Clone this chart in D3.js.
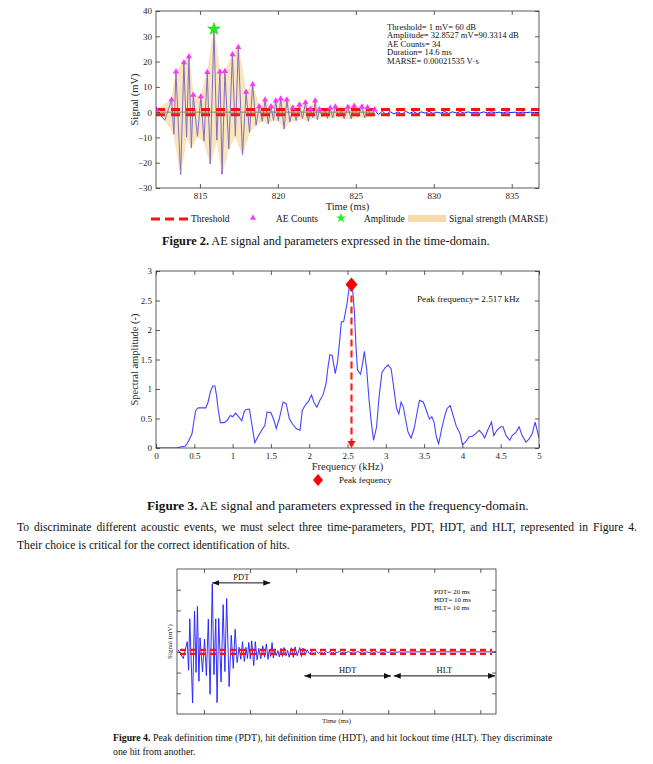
<!DOCTYPE html>
<html><head><meta charset="utf-8">
<script src="https://cdn.jsdelivr.net/npm/d3@7"></script>
<style>body{margin:0;background:#fff}svg{display:block}</style>
</head><body>
<svg id="page" width="653" height="764"></svg>
<script>
// ---------------- DATA ----------------
// Figure 2: AE counts (peaks above threshold)
const aeCountTimes=[812.2,813.18,813.46,813.97,814.29,814.57,815.06,815.47,815.9,816.28,816.6,817.08,817.46,817.96,818.38,818.8,819.18,819.56,819.86,820.18,820.57,820.95,821.38,821.77,822.09,822.39,822.67,823.35,823.69,824.49,824.89,825.39,825.75,826.2];
const aeCountValues=[0.9,4.9,16,19.6,22,6.8,6.2,15.8,32.85,16,16.2,22.8,25.7,8,10.9,2.2,4.9,2.2,4.5,5.3,4.9,1.7,2.9,3.8,1.2,4.5,1,1.6,2.1,2,2.4,2.1,1.8,1];
// troughs of the waveform
const troughTimes=[812.75,813.33,813.76,814.14,814.45,814.84,815.26,815.66,816.08,816.42,816.85,817.27,817.73,818.18,818.6,819.0,819.38,819.72,820.03,820.4,820.77,821.17,821.58,821.95,822.24,822.53,822.85,823.18,823.52,823.9,824.25,824.7,825.12,825.57,825.98];
const troughValues=[-3.2,-8.8,-24.6,-9.9,-14.2,-9.6,-11.5,-20.5,-11,-24.5,-14.5,-9.5,-16.8,-8,-5.2,-3.6,-4.6,-3.2,-3.4,-6.6,-3.9,-3.3,-2.6,-3.6,-2.2,-2.9,-1.8,-2.4,-2.3,-1.9,-2.6,-2.7,-1.9,-2.3,-1.6];
// small peaks below threshold
const minorPeakTimes=[823.02,824.08];
const minorPeakValues=[0.6,0.7];
// noise tail after the burst
const tailTimes=[826.45,826.7,826.95,827.2,827.45,827.7,827.95,828.2,828.45,828.7,828.95,829.2,829.45,829.7,829.95,830.2,830.45,830.7,830.95,831.2,831.45,831.7,831.95,832.2,832.45,832.7,832.95,833.2,833.45,833.7,833.95,834.2,834.45,834.7,834.95,835.2,835.45,835.7,835.95,836.2,836.45,836.75,838,840,842,844,846.7];
const tailValues=[-1.0,0.3,-0.9,0.2,-0.7,0.1,-0.8,0.3,-0.5,0.2,-0.6,0.1,-0.4,0.3,-0.5,0.0,-0.4,0.2,-0.5,0.1,-0.3,0.2,-0.4,0.1,-0.3,0.0,-0.4,0.1,-0.3,0.1,-0.3,0.0,-0.3,0.1,-0.2,0.0,-0.3,0.0,-0.2,0.0,-0.2,-0.1,0,0,0,0,0];
const amplitudeTime=[815.9], amplitudeValue=[32.8527];
const threshold=1;
const fig2XTicks=[815,820,825,830,835];
const fig2YTicks=[-30,-20,-10,0,10,20,30,40];
const fig2Info=["Threshold= 1 mV= 60 dB","Amplitude= 32.8527 mV=90.3314 dB","AE Counts= 34","Duration= 14.6 ms","MARSE= 0.00021535 V\u00B7s"];
const fig2Legend=["Threshold","AE Counts","Amplitude","Signal strength (MARSE)"];

// Figure 3: spectrum
const freqKHz=[0,0.27,0.33,0.38,0.4,0.43,0.47,0.5,0.52,0.55,0.6,0.65,0.68,0.71,0.74,0.77,0.79,0.81,0.84,0.89,0.93,0.97,1.0,1.04,1.09,1.12,1.15,1.17,1.22,1.26,1.29,1.33,1.38,1.42,1.45,1.5,1.54,1.57,1.61,1.66,1.7,1.74,1.78,1.83,1.88,1.91,1.96,1.99,2.03,2.06,2.1,2.14,2.18,2.22,2.24,2.27,2.3,2.34,2.37,2.4,2.42,2.45,2.49,2.52,2.55,2.57,2.59,2.61,2.63,2.67,2.7,2.72,2.75,2.78,2.81,2.84,2.88,2.91,2.95,2.99,3.03,3.07,3.1,3.14,3.17,3.2,3.23,3.26,3.29,3.33,3.37,3.41,3.44,3.49,3.52,3.57,3.6,3.63,3.66,3.69,3.73,3.77,3.8,3.84,3.88,3.92,3.97,4.0,4.04,4.09,4.13,4.17,4.22,4.26,4.29,4.33,4.38,4.41,4.45,4.5,4.53,4.57,4.62,4.65,4.7,4.74,4.78,4.83,4.87,4.91,4.95,4.97,5.0];
const spectralAmp=[0,0,0.02,0.03,0.06,0.13,0.24,0.5,0.64,0.68,0.68,0.68,0.78,0.95,1.05,1.05,0.89,0.67,0.43,0.43,0.47,0.55,0.53,0.59,0.51,0.46,0.61,0.65,0.66,0.33,0.09,0.19,0.3,0.38,0.61,0.6,0.47,0.33,0.5,0.78,0.75,0.5,0.41,0.33,0.3,0.64,0.75,0.79,0.9,0.78,0.69,0.81,0.9,1.09,1.32,1.58,1.57,1.26,1.46,1.85,2.14,2.14,2.42,2.7,2.77,2.64,2.31,1.74,1.32,1.25,1.46,1.64,1.34,0.84,0.44,0.13,0.36,0.84,1.28,1.36,1.41,1.34,1.06,0.67,0.58,0.78,0.69,0.47,0.27,0.17,0.33,0.61,0.81,0.78,0.67,0.49,0.53,0.44,0.19,0.07,0.33,0.55,0.67,0.72,0.55,0.37,0.24,0.06,0.1,0.19,0.2,0.24,0.3,0.24,0.17,0.3,0.44,0.21,0.3,0.36,0.36,0.21,0.13,0.21,0.27,0.36,0.21,0.1,0.15,0.24,0.44,0.33,0.17];
const peakFreq=[2.552], peakAmp=[2.77];
const fig3XTicks=[0,0.5,1,1.5,2,2.5,3,3.5,4,4.5,5];
const fig3YTicks=[0,0.5,1,1.5,2,2.5,3];

// Figure 4: time parameters (ms on the schematic axis, mV)
const fig4XTicks=[815,820,825,830,835,840,845];
const fig4YTicks=[-20,-10,0,10,20,30];
const paramNames=["PDT","HDT","HLT"];
const paramStart=[815.9,825.9,835.6];
const paramEnd=[822.2,835.3,846.6];
const paramLevel=[33.3,-11.6,-11.6];
const fig4Info=["PDT= 20 ms","HDT= 10 ms","HLT= 10 ms"];

// ---------------- DRAW ----------------
const serif='"Liberation Serif","Times New Roman",serif';
const svg=d3.select('#page');
const defs=svg.append('defs');

function fitWidth(sel,target){const w=sel.node().getComputedTextLength();const fs=parseFloat(sel.attr('font-size'));sel.attr('font-size',fs*target/w);return fs*target/w;}

function boxAxes(g,x,y,xt,yt,xfmt,yfmt,labels){
  const [x0,x1]=x.range(),[y1,y0]=y.range();
  const st=a=>a.call(s=>s.select('.domain').remove()).call(s=>s.selectAll('line').attr('stroke','#333').attr('stroke-width',0.8)).call(s=>s.selectAll('text').attr('font-family',serif).attr('font-size',9).attr('fill','#262626'));
  g.append('g').attr('transform',`translate(0,${y1})`).call(d3.axisBottom(x).tickValues(xt).tickSize(-4).tickPadding(5).tickFormat(labels?xfmt:()=>'')).call(st);
  g.append('g').attr('transform',`translate(0,${y0})`).call(d3.axisTop(x).tickValues(xt).tickSize(-4).tickFormat(()=>'')).call(st);
  g.append('g').attr('transform',`translate(${x0},0)`).call(d3.axisLeft(y).tickValues(yt).tickSize(-4).tickPadding(4).tickFormat(labels?yfmt:()=>'')).call(st);
  g.append('g').attr('transform',`translate(${x1},0)`).call(d3.axisRight(y).tickValues(yt).tickSize(-4).tickFormat(()=>'')).call(st);
  g.append('rect').attr('x',x0).attr('y',y0).attr('width',x1-x0).attr('height',y1-y0).attr('fill','none').attr('stroke','#333').attr('stroke-width',0.8);
}
function clip(id,x,y){const [x0,x1]=x.range(),[y1,y0]=y.range();defs.append('clipPath').attr('id',id).append('rect').attr('x',x0).attr('y',y0).attr('width',x1-x0).attr('height',y1-y0);return `url(#${id})`;}

// build waveform
const sig=[];
aeCountTimes.forEach((t,i)=>sig.push([t,aeCountValues[i]]));
troughTimes.forEach((t,i)=>sig.push([t,troughValues[i]]));
minorPeakTimes.forEach((t,i)=>sig.push([t,minorPeakValues[i]]));
tailTimes.forEach((t,i)=>sig.push([t,tailValues[i]]));
sig.sort((a,b)=>a[0]-b[0]);

// ===== Figure 2 =====
{
const x=d3.scaleLinear().domain([812.18,836.75]).range([156,539]);
const y=d3.scaleLinear().domain([-30,40]).range([188,11]);
const g=svg.append('g');
const cp=clip('c2',x,y);
const pg=g.append('g').attr('clip-path',cp);
const line=d3.line().x(d=>x(d[0])).y(d=>y(d[1]));
pg.append('path').attr('d',line(sig)).attr('fill','none').attr('stroke','#1a1aff').attr('stroke-width',1);
const env=aeCountTimes.map((t,i)=>[t,aeCountValues[i]]).concat(troughTimes.map((t,i)=>[t,troughValues[i]]).reverse());
pg.append('path').attr('d',line(env)+'Z').attr('fill','#f5c878').attr('fill-opacity',0.48).attr('stroke','#f5c878').attr('stroke-opacity',0.4).attr('stroke-width',0.8);
pg.append('line').attr('x1',x(aeCountTimes[0])).attr('x2',x(aeCountTimes[aeCountTimes.length-1])).attr('y1',y(0)).attr('y2',y(0)).attr('stroke','#9c7a4e').attr('stroke-width',1);
[threshold,-threshold].forEach(v=>pg.append('line').attr('x1',x.range()[0]).attr('x2',x.range()[1]).attr('y1',y(v)).attr('y2',y(v)).attr('stroke','#ff1010').attr('stroke-width',3).attr('stroke-dasharray','9,6'));
pg.selectAll('.tri').data(aeCountTimes).join('path').attr('transform',(t,i)=>`translate(${x(t)},${y(aeCountValues[i])})`).attr('d',d3.symbol(d3.symbolTriangle,16)()).attr('fill','#ff33ff');
pg.selectAll('.star').data(amplitudeTime).join('path').attr('transform',(t,i)=>`translate(${x(t)},${y(amplitudeValue[i])})`).attr('d',d3.symbol(d3.symbolStar,50)()).attr('fill','#22ee22').attr('stroke','#11cc11').attr('stroke-width',0.5);
boxAxes(g,x,y,fig2XTicks,fig2YTicks,d3.format('d'),d3.format('d'),true);
g.append('text').attr('x',(156+539)/2).attr('y',210).attr('text-anchor','middle').attr('font-family',serif).attr('font-size',10.5).attr('fill','#262626').text('Time (ms)');
g.append('text').attr('transform',`translate(138,${(11+188)/2}) rotate(-90)`).attr('text-anchor','middle').attr('font-family',serif).attr('font-size',10.5).attr('fill','#262626').text('Signal (mV)');
g.selectAll('.info').data(fig2Info).join('text').attr('x',387).attr('y',(d,i)=>29.5+i*8.6).attr('font-family',serif).attr('font-size',8.6).attr('fill','#111').text(d=>d);
// legend
const lg=g.append('g').attr('font-family',serif).attr('font-size',9.5).attr('fill','#111');
lg.append('line').attr('x1',151).attr('x2',190).attr('y1',219).attr('y2',219).attr('stroke','#ff1010').attr('stroke-width',3).attr('stroke-dasharray','9,5');
lg.append('text').attr('x',191).attr('y',222).text(fig2Legend[0]);
lg.append('path').attr('transform','translate(253,218)').attr('d',d3.symbol(d3.symbolTriangle,16)()).attr('fill','#ff33ff');
lg.append('text').attr('x',276).attr('y',222).text(fig2Legend[1]);
lg.append('path').attr('transform','translate(341,218)').attr('d',d3.symbol(d3.symbolStar,30)()).attr('fill','#22ee22');
lg.append('text').attr('x',364).attr('y',222).text(fig2Legend[2]);
lg.append('rect').attr('x',408).attr('y',215).attr('width',38).attr('height',7).attr('fill','#f8dba8');
lg.append('text').attr('x',449).attr('y',222).text(fig2Legend[3]);
}

// ===== Figure 3 =====
{
const x=d3.scaleLinear().domain([0,5]).range([156,539]);
const y=d3.scaleLinear().domain([0,3]).range([448,271]);
const g=svg.append('g');
const cp=clip('c3',x,y);
const pg=g.append('g').attr('clip-path',cp);
pg.append('path').attr('d',d3.line().x((d,i)=>x(freqKHz[i])).y((d,i)=>y(spectralAmp[i]))(freqKHz)).attr('fill','none').attr('stroke','#4444ff').attr('stroke-width',1.1);
peakFreq.forEach((f,i)=>{
  pg.append('line').attr('x1',x(f)).attr('x2',x(f)).attr('y1',y(peakAmp[i])).attr('y2',y(0)-4).attr('stroke','#ff2020').attr('stroke-width',2.2).attr('stroke-dasharray','7,4');
  pg.append('path').attr('d',`M${x(f)-4},${y(0)-7}L${x(f)+4},${y(0)-7}L${x(f)},${y(0)}Z`).attr('fill','#ff1010');
  g.append('path').attr('d',`M${x(f)},${y(peakAmp[i])-7}L${x(f)+6},${y(peakAmp[i])}L${x(f)},${y(peakAmp[i])+7}L${x(f)-6},${y(peakAmp[i])}Z`).attr('fill','#ff0000');
});
boxAxes(g,x,y,fig3XTicks,fig3YTicks,d3.format(''),d3.format(''),true);
g.append('text').attr('x',417).attr('y',302).attr('font-family',serif).attr('font-size',9.2).attr('fill','#111').text('Peak frequency= 2.517 kHz');
g.append('text').attr('x',(156+539)/2).attr('y',470).attr('text-anchor','middle').attr('font-family',serif).attr('font-size',10.5).attr('fill','#262626').text('Frequency (kHz)');
g.append('text').attr('transform',`translate(138,${(271+448)/2}) rotate(-90)`).attr('text-anchor','middle').attr('font-family',serif).attr('font-size',10.5).attr('fill','#262626').text('Spectral amplitude (-)');
g.append('path').attr('d','M318,474L323,480L318,486L313,480Z').attr('fill','#ff0000');
g.append('text').attr('x',339).attr('y',483).attr('font-family',serif).attr('font-size',9).attr('fill','#111').text('Peak fequency');
}

// ===== Captions and paragraph =====
function caption(xp,yp,bold,rest,target,fs){
  const t=svg.append('text').attr('x',xp).attr('y',yp).attr('font-family',serif).attr('font-size',fs).attr('fill','#111');
  t.append('tspan').attr('font-weight','bold').text(bold);
  t.append('tspan').text(rest);
  return fitWidth(t,target);
}
caption(162,245,'Figure 2.',' AE signal and parameters expressed in the time-domain.',328,12);
caption(147,510,'Figure 3.',' AE signal and parameters expressed in the frequency-domain.',382,12);
{
const l2=svg.append('text').attr('x',17).attr('y',549).attr('font-family',serif).attr('font-size',11).attr('fill','#111').text('Their choice is critical for the correct identification of hits.');
const fs=fitWidth(l2,273);
const l1=svg.append('text').attr('x',17).attr('y',531).attr('font-family',serif).attr('font-size',fs).attr('fill','#111').text('To discriminate different acoustic events, we must select three time-parameters, PDT, HDT, and HLT, represented in Figure 4.');
const w=l1.node().getComputedTextLength();
const n=(l1.text().match(/ /g)||[]).length;
l1.style('word-spacing',((620-w)/n)+'px');
}
{
const fs=caption(113,741,'Figure 4.','  Peak definition time (PDT), hit definition time (HDT), and hit lockout time (HLT). They discriminate',440,10);
svg.append('text').attr('x',113).attr('y',755).attr('font-family',serif).attr('font-size',fs).attr('fill','#111').text('one hit from another.');
}

// ===== Figure 4 =====
{
const x=d3.scaleLinear().domain([812.07,846.7]).range([177,496]);
const y=d3.scaleLinear().domain([-30,40]).range([714,569]);
const g=svg.append('g');
const cp=clip('c4',x,y);
const pg=g.append('g').attr('clip-path',cp);
pg.append('path').attr('d',d3.line().x(d=>x(d[0])).y(d=>y(d[1]))(sig)).attr('fill','none').attr('stroke','#1a1aff').attr('stroke-width',0.9);
[threshold,-threshold].forEach(v=>pg.append('line').attr('x1',x.range()[0]+3).attr('x2',x.range()[1]-4).attr('y1',y(v)).attr('y2',y(v)).attr('stroke','#ff1010').attr('stroke-width',2.2).attr('stroke-dasharray','6,4'));
boxAxes(g,x,y,fig4XTicks,fig4YTicks,null,null,false);
const mk=defs.append('marker').attr('id','ah').attr('viewBox','0 0 10 10').attr('refX',10).attr('refY',5).attr('markerWidth',7).attr('markerHeight',7).attr('markerUnits','userSpaceOnUse').attr('orient','auto-start-reverse');
mk.append('path').attr('d','M0,1L10,5L0,9Z').attr('fill','#111');
paramNames.forEach((n,i)=>{
  g.append('line').attr('x1',x(paramStart[i])).attr('x2',x(paramEnd[i])).attr('y1',y(paramLevel[i])).attr('y2',y(paramLevel[i])).attr('stroke','#111').attr('stroke-width',1).attr('marker-start','url(#ah)').attr('marker-end','url(#ah)');
  g.append('text').attr('x',(x(paramStart[i])+x(paramEnd[i]))/2).attr('y',y(paramLevel[i])-3).attr('text-anchor','middle').attr('font-family',serif).attr('font-size',8.5).attr('fill','#111').text(n);
});
g.selectAll('.i4').data(fig4Info).join('text').attr('x',434).attr('y',(d,i)=>594+i*8).attr('font-family',serif).attr('font-size',7).attr('fill','#111').text(d=>d);
g.append('text').attr('x',(177+496)/2).attr('y',723).attr('text-anchor','middle').attr('font-family',serif).attr('font-size',7).attr('fill','#222').text('Time (ms)');
g.append('text').attr('transform',`translate(172,${(569+714)/2}) rotate(-90)`).attr('text-anchor','middle').attr('font-family',serif).attr('font-size',7).attr('fill','#222').text('Signal (mV)');
}
</script>
</body></html>
